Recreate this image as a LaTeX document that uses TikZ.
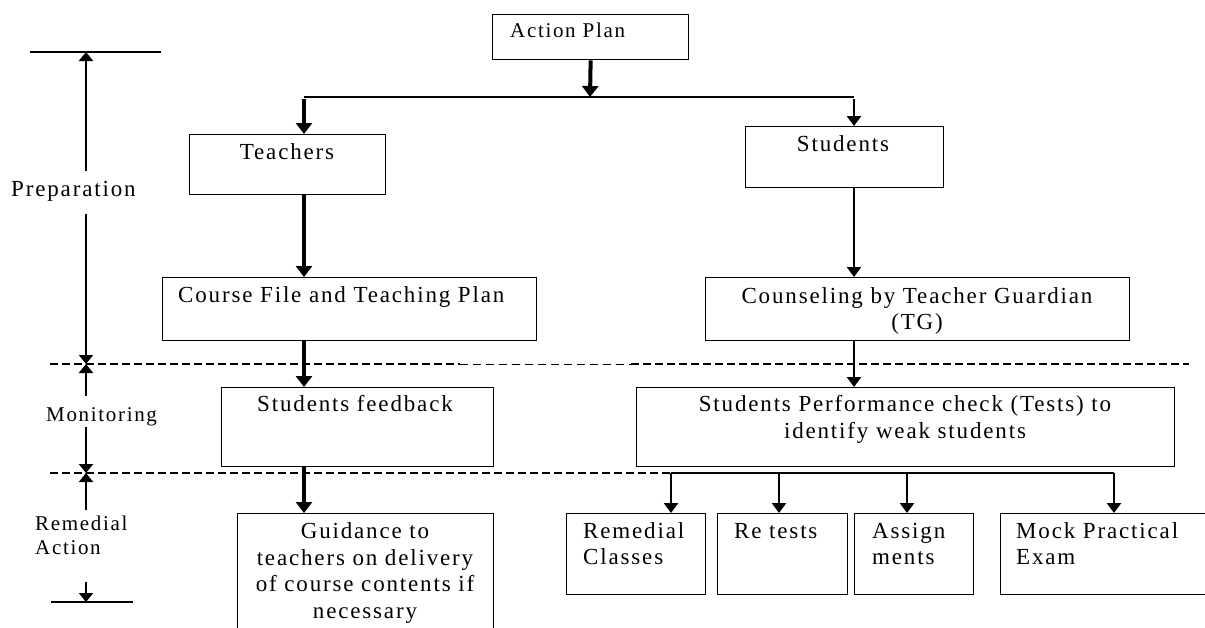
\documentclass[tikz,border=0pt]{standalone}
\usepackage{fontspec}
\newfontfamily\planfont{Liberation Serif}[LetterSpace=8]
\usepackage{tikz}
\usetikzlibrary{arrows.meta}

\begin{document}
\begin{tikzpicture}[x=1pt,y=-1pt]
\tikzstyle{every node}=[inner sep=0pt]
\tikzstyle{box}=[draw, line width=1.3pt, anchor=north west]
\tikzstyle{txt}=[font=\planfont\fontsize{23}{26.5}\selectfont, anchor=base, align=center]
\tikzstyle{phase}=[font=\planfont\fontsize{21}{24}\selectfont, anchor=base west, align=left]
\tikzstyle{heavy}=[line width=4pt, -{Triangle[width=16pt,length=11pt]}]
\tikzstyle{medium}=[line width=2.6pt, -{Triangle[width=14pt,length=10pt]}]
\tikzstyle{side}=[line width=2.2pt, -{Triangle[width=14pt,length=9pt]}]
\clip (0,0) rectangle (1205,627);
% boxes
\draw (492,14) node (plan) [box, minimum width=196pt, minimum height=45pt] {};
\draw (189,134) node (teach) [box, minimum width=196pt, minimum height=60pt] {};
\draw (745,126) node (stud) [box, minimum width=198pt, minimum height=61pt] {};
\draw (162,277) node (cfile) [box, minimum width=374pt, minimum height=63pt] {};
\draw (705,277) node (couns) [box, minimum width=424pt, minimum height=63pt] {};
\draw (221,387) node (feed) [box, minimum width=272pt, minimum height=79pt] {};
\draw (636,387) node (perf) [box, minimum width=538pt, minimum height=79pt] {};
\draw (237,513) node (guide) [box, minimum width=256pt, minimum height=130pt] {};
\draw (566,513) node (remc) [box, minimum width=139pt, minimum height=81pt] {};
\draw (717,513) node (retest) [box, minimum width=130pt, minimum height=81pt] {};
\draw (854,513) node (assign) [box, minimum width=119pt, minimum height=81pt] {};
\draw (1000,513) node (mock) [box, minimum width=220pt, minimum height=81pt] {};
% texts (multi-line ones sit on their last line)
\draw (510,37) node (plantxt) [txt, anchor=base west, font=\planfont\fontsize{21}{24}\selectfont] {Action Plan};
\draw (287,159) node (teachtxt) [txt] {Teachers};
\draw (843,151) node (studtxt) [txt] {Students};
\draw (178,302) node (cfiletxt) [txt, anchor=base west] {Course File and Teaching Plan};
\draw (917,329.5) node (counstxt) [txt] {Counseling by Teacher Guardian\\(TG)};
\draw (355,411) node (feedtxt) [txt] {Students feedback};
\draw (905,438) node (perftxt) [txt] {Students Performance check (Tests) to\\identify weak students};
\draw (365,618) node (guidetxt) [txt] {Guidance to\\teachers on delivery\\of course contents if\\necessary};
\draw (583,564.5) node (remctxt) [txt, anchor=base west, align=left] {Remedial\\Classes};
\draw (734,538) node (retesttxt) [txt, anchor=base west] {Re tests};
\draw (872,564.5) node (assigntxt) [txt, anchor=base west, align=left] {Assign\\ments};
\draw (1016,564.5) node (mocktxt) [txt, anchor=base west, align=left] {Mock Practical\\Exam};
% phases on the left
\draw (11,196) node (prep) [phase, font=\planfont\fontsize{23}{26.5}\selectfont, text height=25pt, text depth=18pt] {Preparation};
\draw (46,421) node (mon) [phase, text height=25pt, text depth=6pt] {Monitoring};
\draw (35,554) node (rem) [phase, text height=44pt, text depth=28pt] {Remedial\\Action};
\coordinate (axis) at (86,0);
\coordinate (ltop) at (30,52);
\coordinate (lbot) at (51,602);
\coordinate (dasha) at (50,364);
\coordinate (dashb) at (50,473);
\draw[line width=1.2pt] (ltop) -- +(131,0);
\draw[line width=1.2pt] (lbot) -- +(82,0);
\draw[line width=2.5pt, dash pattern=on 8pt off 4pt] (dasha) -- (460,364);
\draw[line width=1pt, dash pattern=on 8pt off 5pt] (460,364) -- (631,364);
\draw[line width=2.5pt, dash pattern=on 8pt off 4pt] (631,364) -- (1189,364);
\draw[line width=2.5pt, dash pattern=on 8pt off 4pt] (dashb) -- (670,473);
\draw[side] (prep.north -| axis) -- (ltop -| axis);
\draw[side] (prep.south -| axis) -- (dasha -| axis);
\draw[side] (mon.north -| axis) -- (dasha -| axis);
\draw[side] (mon.south -| axis) -- (dashb -| axis);
\draw[side] (rem.north -| axis) -- (dashb -| axis);
\draw[side] (rem.south -| axis) -- (lbot -| axis);
% connectors
\coordinate (split) at (590,97);
\coordinate (tbus) at (304,97);
\coordinate (sbus) at (854,97);
\draw[line width=1.5pt] (tbus) -- (sbus);
\draw[heavy] (plan.south) -- (split);
\draw[heavy] ([yshift=-2pt]tbus) -- (teach.north -| tbus);
\draw[medium] ([yshift=-2pt]sbus) -- (stud.north -| sbus);
\draw[heavy] (teach.south -| tbus) -- (cfile.north -| tbus);
\draw[medium] (stud.south -| sbus) -- (couns.north -| sbus);
\draw[heavy] (cfile.south -| tbus) -- (feed.north -| tbus);
\draw[medium] (couns.south -| sbus) -- (perf.north -| sbus);
\draw[heavy] (feed.south -| tbus) -- (guide.north -| tbus);
\coordinate (rb1) at (671,473);
\coordinate (rb2) at (779,473);
\coordinate (rb3) at (907,473);
\coordinate (rb4) at (1114,473);
\draw[line width=1.5pt] (rb1) -- (rb4);
\draw[medium] (rb1) -- (remc.north -| rb1);
\draw[medium] (rb2) -- (retest.north -| rb2);
\draw[medium] (rb3) -- (assign.north -| rb3);
\draw[medium] (rb4) -- (mock.north -| rb4);
\end{tikzpicture}
\end{document}
